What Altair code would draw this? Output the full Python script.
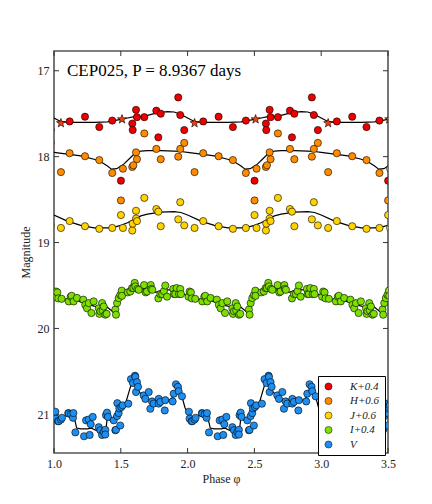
import altair as alt
import pandas as pd

TITLE_TEXT = "CEP025, P = 8.9367 days"

bands = ["K+0.4", "H+0.6", "J+0.6", "I+0.4", "V"]
band_colors = ["#ee0000", "#ff8c00", "#ffd200", "#7ee000", "#1e8ff0"]

# phase-folded observations (phase in [0,1))
K_phase = [0.117, 0.232, 0.339, 0.436, 0.501, 0.586, 0.589, 0.614, 0.621, 0.676,
           0.766, 0.781, 0.799, 0.930, 0.945, 0.975]
K_mag = [17.59, 17.535, 17.655, 17.58, 18.28, 17.615, 17.69, 17.455, 17.54, 17.54,
         17.465, 17.775, 17.50, 17.31, 17.515, 17.69]

K_star_phase = [0.052, 0.509]
K_star_mag = [17.61, 17.565]

H_phase = [0.052, 0.117, 0.232, 0.339, 0.436, 0.501, 0.516, 0.586, 0.594, 0.614,
           0.621, 0.676, 0.766, 0.799, 0.930, 0.945, 0.975]
H_mag = [18.18, 17.96, 17.995, 18.04, 18.19, 18.51, 18.14, 18.12, 18.10, 17.95,
         18.03, 17.73, 17.91, 18.03, 18.00, 17.91, 17.84]

J_phase = [0.052, 0.117, 0.232, 0.339, 0.436, 0.501, 0.516, 0.586, 0.589, 0.614,
           0.614, 0.621, 0.676, 0.766, 0.781, 0.799, 0.930, 0.945, 0.975]
J_mag = [18.83, 18.75, 18.81, 18.84, 18.83, 18.68, 18.83, 18.86, 18.78, 18.63,
         18.72, 18.75, 18.48, 18.61, 18.64, 18.81, 18.73, 18.53, 18.80]

I_phase = [0.007, 0.015, 0.025, 0.032, 0.057, 0.110, 0.125, 0.132, 0.147, 0.172,
           0.219, 0.234, 0.247, 0.260, 0.280, 0.297, 0.335, 0.340, 0.347, 0.360,
           0.364, 0.372, 0.384, 0.394, 0.459, 0.464, 0.472, 0.484, 0.496, 0.507,
           0.509, 0.552, 0.571, 0.584, 0.594, 0.604, 0.609, 0.624, 0.634, 0.674,
           0.686, 0.696, 0.724, 0.728, 0.736, 0.781, 0.796, 0.810, 0.823, 0.833,
           0.846, 0.893, 0.898, 0.908, 0.918, 0.936, 0.945, 0.950]
I_mag = [19.63, 19.57, 19.58, 19.65, 19.655, 19.685, 19.63, 19.62, 19.685, 19.645,
         19.665, 19.725, 19.765, 19.705, 19.82, 19.685, 19.765, 19.83, 19.80, 19.705,
         19.79, 19.745, 19.84, 19.83, 19.78, 19.84, 19.705, 19.647, 19.61, 19.56,
         19.62, 19.58, 19.57, 19.53, 19.53, 19.47, 19.51, 19.54, 19.55, 19.495,
         19.58, 19.57, 19.495, 19.54, 19.55, 19.65, 19.60, 19.60, 19.565, 19.50,
         19.63, 19.54, 19.60, 19.60, 19.53, 19.60, 19.54, 19.60]

V_phase = [0.010, 0.015, 0.030, 0.035, 0.052, 0.060, 0.107, 0.110, 0.127, 0.142,
           0.145, 0.160, 0.225, 0.240, 0.260, 0.267, 0.275, 0.290, 0.335, 0.347,
           0.360, 0.372, 0.384, 0.384, 0.389, 0.397, 0.404, 0.447, 0.459, 0.464,
           0.472, 0.474, 0.484, 0.489, 0.496, 0.504, 0.514, 0.556, 0.576, 0.591,
           0.606, 0.609, 0.614, 0.621, 0.629, 0.671, 0.684, 0.709, 0.721, 0.734,
           0.746, 0.784, 0.784, 0.796, 0.829, 0.833, 0.888, 0.896, 0.913, 0.928,
           0.933, 0.958]
V_mag = [20.97, 21.05, 21.08, 21.08, 21.06, 21.04, 20.985, 20.99, 21.00, 21.04,
         20.985, 21.21, 21.255, 21.07, 21.06, 21.24, 21.115, 21.03, 21.15, 21.185,
         21.24, 21.205, 21.18, 21.235, 21.01, 20.98, 21.03, 21.07, 21.185, 21.18,
         21.02, 20.87, 20.985, 20.93, 21.13, 20.915, 20.895, 20.876, 20.59, 20.635,
         20.55, 20.565, 20.74, 20.625, 20.68, 20.78, 20.82, 20.74, 20.935, 20.85,
         20.875, 20.82, 20.875, 20.855, 20.955, 20.835, 20.85, 20.76, 20.65, 20.68,
         20.73, 20.79]

# template (model) light curves, phase in [0,1)
K_fit_phase = [0.0, 0.05, 0.1, 0.2, 0.3, 0.4, 0.45, 0.5, 0.55, 0.6, 0.65, 0.7, 0.75, 0.8, 0.85, 0.9, 0.95]
K_fit_mag = [17.55, 17.59, 17.60, 17.60, 17.60, 17.595, 17.58, 17.565, 17.55, 17.535, 17.53, 17.52, 17.50, 17.485, 17.475, 17.48, 17.51]

H_fit_phase = [0.0, 0.1, 0.2, 0.3, 0.35, 0.4, 0.43, 0.47, 0.5, 0.52, 0.56, 0.6, 0.65, 0.7, 0.8, 0.9, 0.95]
H_fit_mag = [17.95, 17.97, 17.99, 18.03, 18.06, 18.11, 18.145, 18.14, 18.11, 18.09, 18.03, 17.97, 17.935, 17.93, 17.93, 17.935, 17.94]

J_fit_phase = [0.0, 0.1, 0.2, 0.3, 0.4, 0.45, 0.5, 0.55, 0.6, 0.65, 0.7, 0.8, 0.9, 0.95]
J_fit_mag = [18.68, 18.75, 18.80, 18.83, 18.83, 18.82, 18.80, 18.77, 18.73, 18.69, 18.67, 18.645, 18.64, 18.65]

I_fit_phase = [0.0, 0.05, 0.1, 0.15, 0.2, 0.25, 0.3, 0.35, 0.38, 0.42, 0.46, 0.48, 0.5, 0.53, 0.58, 0.62, 0.67, 0.72, 0.76, 0.8, 0.84, 0.9, 0.95]
I_fit_mag = [19.63, 19.65, 19.66, 19.665, 19.69, 19.72, 19.74, 19.75, 19.73, 19.78, 19.83, 19.72, 19.64, 19.59, 19.57, 19.54, 19.54, 19.53, 19.58, 19.56, 19.55, 19.55, 19.57]

V_fit_phase = [0.0, 0.04, 0.08, 0.12, 0.145, 0.17, 0.2, 0.25, 0.28, 0.32, 0.36, 0.39, 0.40, 0.42, 0.44, 0.46, 0.48, 0.50, 0.54, 0.58, 0.60, 0.63, 0.67, 0.72, 0.76, 0.8, 0.85, 0.89, 0.92, 0.95, 0.98]
V_fit_mag = [20.98, 21.05, 21.02, 20.99, 21.0, 21.16, 21.17, 21.17, 21.16, 21.19, 21.21, 21.16, 21.02, 21.07, 21.09, 21.02, 20.96, 20.93, 20.85, 20.64, 20.62, 20.72, 20.80, 20.84, 20.85, 20.84, 20.85, 20.80, 20.68, 20.75, 20.92]

x_ticks = [1.0, 1.5, 2.0, 2.5, 3.0, 3.5]
y_ticks = [17, 18, 19, 20, 21]


def unfold(phases, mags, band, lo, hi):
    rows = []
    for k in range(0, 4):
        for p, m in zip(phases, mags):
            q = p + k
            if lo <= q <= hi:
                rows.append({"phase": q, "mag": m, "band": band})
    return rows


obs = []
for b, ph, mg in [("V", V_phase, V_mag), ("I+0.4", I_phase, I_mag),
                  ("J+0.6", J_phase, J_mag), ("H+0.6", H_phase, H_mag),
                  ("K+0.4", K_phase, K_mag)]:
    obs += unfold(ph, mg, b, 0.965, 3.535)
obs_df = pd.DataFrame(obs)

stars_df = pd.DataFrame(unfold(K_star_phase, K_star_mag, "K", 0.965, 3.535))

fits = []
for b, ph, mg in [("K", K_fit_phase, K_fit_mag), ("H", H_fit_phase, H_fit_mag),
                  ("J", J_fit_phase, J_fit_mag), ("I", I_fit_phase, I_fit_mag),
                  ("V", V_fit_phase, V_fit_mag)]:
    fits += unfold(ph, mg, b, 0.8, 3.7)
fit_df = pd.DataFrame(fits)

FONT = "Liberation Serif"
W, H = 334, 402

xs = alt.Scale(domain=[1.0, 3.5], nice=False, zero=False)
ys = alt.Scale(domain=[16.77, 21.45], nice=False, zero=False, reverse=True)

xaxis = alt.Axis(values=x_ticks, format=".1f", ticks=False, grid=False, domain=False,
                 labelFlush=False, labelOverlap=False,
                 labelFont=FONT, labelFontSize=12, labelColor="#222", labelPadding=5,
                 title="Phase φ", titleFont=FONT, titleFontSize=12, titleFontWeight="normal",
                 titleColor="#222", titlePadding=4)
yaxis = alt.Axis(values=y_ticks, format="d", ticks=False, grid=False, domain=False,
                 labelFlush=False, labelOverlap=False,
                 labelFont=FONT, labelFontSize=12, labelColor="#222", labelPadding=5,
                 title="Magnitude", titleFont=FONT, titleFontSize=12, titleFontWeight="normal",
                 titleColor="#222", titlePadding=5)

X = alt.X("phase:Q", scale=xs, axis=xaxis)
Y = alt.Y("mag:Q", scale=ys, axis=yaxis)

lines = alt.Chart(fit_df).mark_line(color="black", strokeWidth=1.2, clip=True).encode(
    x=X, y=Y, detail="band:N", order="phase:Q")

points = alt.Chart(obs_df).mark_point(filled=True, size=52, stroke="black", strokeWidth=0.6,
                                      opacity=1, clip=True).encode(
    x=X, y=Y,
    color=alt.Color("band:N", scale=alt.Scale(domain=bands, range=band_colors),
                    legend=alt.Legend(title=None, orient="none", legendX=264, legendY=325,
                                      strokeColor="black", fillColor="white", padding=5,
                                      cornerRadius=0, symbolType="circle", symbolSize=50,
                                      symbolStrokeColor="black", symbolStrokeWidth=0.5,
                                      labelFont=FONT, labelFontStyle="italic", labelFontSize=11,
                                      labelOffset=16, rowPadding=2.5, labelColor="#222")))

stars = alt.Chart(stars_df).mark_point(filled=True, shape="M0,-1L0.24,-0.33L0.95,-0.31L0.38,0.12L0.59,0.81L0,0.4L-0.59,0.81L-0.38,0.12L-0.95,-0.31L-0.24,-0.33Z",
                                       size=90, fill="#f04010", stroke="black", strokeWidth=0.6,
                                       opacity=1, clip=True).encode(x=X, y=Y)

title_df = pd.DataFrame({"phase": [1.097], "mag": [17.06], "label": [TITLE_TEXT]})
title = alt.Chart(title_df).mark_text(align="left", baseline="alphabetic", font=FONT,
                                      fontSize=17, color="black").encode(x=X, y=Y, text="label:N")

tick_col = "#333"
xt_df = pd.DataFrame({"phase": x_ticks})
yt_df = pd.DataFrame({"mag": y_ticks})
xt_bottom = alt.Chart(xt_df).mark_rule(color=tick_col, strokeWidth=1).encode(
    x=X, y=alt.value(H - 5), y2=alt.value(H))
xt_top = alt.Chart(xt_df).mark_rule(color=tick_col, strokeWidth=1).encode(
    x=X, y=alt.value(0), y2=alt.value(5))
yt_left = alt.Chart(yt_df).mark_rule(color=tick_col, strokeWidth=1).encode(
    y=Y, x=alt.value(0), x2=alt.value(5))
yt_right = alt.Chart(yt_df).mark_rule(color=tick_col, strokeWidth=1).encode(
    y=Y, x=alt.value(W - 5), x2=alt.value(W))

chart = alt.layer(xt_bottom, xt_top, yt_left, yt_right, lines, points, stars, title).properties(
    width=W, height=H,
    padding={"left": 46, "top": 43, "right": 36, "bottom": 43},
    autosize=alt.AutoSizeParams(type="none"),
    background="white",
).configure_view(stroke="#555", strokeWidth=1.6)

chart.save("out.html", embed_options={"renderer": "svg", "actions": False})
